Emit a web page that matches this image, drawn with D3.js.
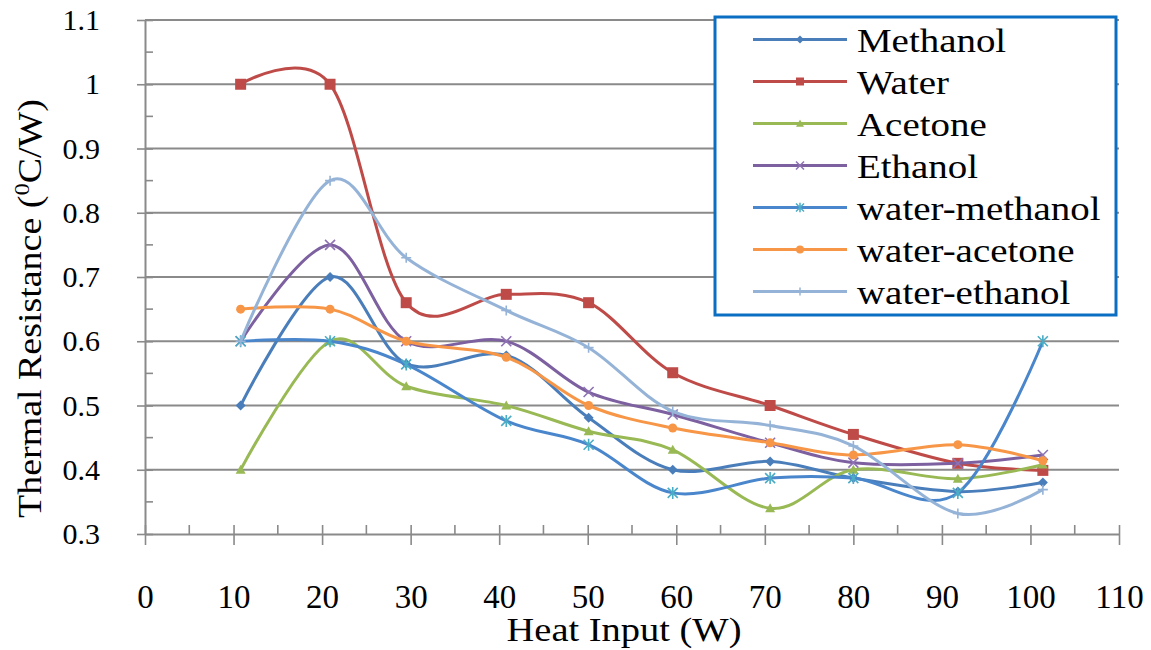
<!DOCTYPE html>
<html>
<head>
<meta charset="utf-8">
<script src="https://cdn.jsdelivr.net/npm/d3@7"></script>
<style>
  body { margin: 0; background: #fff; }
  text { font-family: "Liberation Serif", "Times New Roman", serif; fill: #000; }
</style>
</head>
<body>
<div id="chart"></div>
<script>
// values
var heatInput = [10.8, 20.9, 29.5, 40.8, 50.1, 59.6, 70.6, 80, 91.8, 101.4];
var methanol      = [0.50, 0.70, 0.565, 0.578, 0.481, 0.40, 0.413, 0.387, 0.366, 0.38];
var water         = [1.0, 1.0, 0.66, 0.673, 0.66, 0.551, 0.50, 0.455, 0.41, 0.399];
var acetone       = [0.40, 0.60, 0.53, 0.50, 0.46, 0.431, 0.34, 0.40, 0.386, 0.408];
var ethanol       = [0.60, 0.75, 0.60, 0.60, 0.521, 0.486, 0.442, 0.411, 0.41, 0.423];
var waterMethanol = [0.60, 0.60, 0.564, 0.476, 0.439, 0.364, 0.387, 0.387, 0.364, 0.60];
var waterAcetone  = [0.65, 0.65, 0.60, 0.575, 0.50, 0.465, 0.442, 0.423, 0.439, 0.414];
var waterEthanol  = [0.60, 0.85, 0.73, 0.648, 0.59, 0.491, 0.469, 0.437, 0.332, 0.369];

var seriesNames = ["Methanol", "Water", "Acetone", "Ethanol", "water-methanol", "water-acetone", "water-ethanol"];
var seriesValues = [methanol, water, acetone, ethanol, waterMethanol, waterAcetone, waterEthanol];
var lineColors = ["#4A7EBB", "#BE4B48", "#98B954", "#7D60A0", "#4A86CC", "#F79646", "#95B3D7"];
var markerColors = ["#4A7EBB", "#BE4B48", "#98B954", "#8E72B4", "#4BACC6", "#F79646", "#95B3D7"];
var markerTypes = ["diamond", "square", "triangle", "times", "asterisk", "circle", "plus"];

var xTicks = d3.range(0, 111, 10);
var xMinor = d3.range(5, 110, 10);
var yTicks = [0.3, 0.4, 0.5, 0.6, 0.7, 0.8, 0.9, 1.0, 1.1];
var yMinor = [0.35, 0.45, 0.55, 0.65, 0.75, 0.85, 0.95, 1.05];

var width = 1151, height = 650;

var svg = d3.select("#chart").append("svg")
	.attr("width", width)
	.attr("height", height);

var x = d3.scaleLinear().domain([0, 110]).range([145, 1119]);
var y = d3.scaleLinear().domain([0.3, 1.1]).range([534, 20]);

var gray = "#8a8a8a";

// horizontal grid
svg.append("g").selectAll("line")
	.data(yTicks.slice(1))
	.enter().append("line")
	.attr("x1", x(0)).attr("x2", x(110))
	.attr("y1", function(d){ return y(d); })
	.attr("y2", function(d){ return y(d); })
	.attr("stroke", gray)
	.attr("stroke-width", 1.8);

// x axis
var xAxis = svg.append("g")
	.attr("transform", "translate(0," + y(0.3) + ")")
	.call(d3.axisBottom(x).tickValues(xTicks).tickSizeOuter(0));
xAxis.select(".domain").attr("stroke", gray).attr("stroke-width", 2);
xAxis.selectAll(".tick line").attr("stroke", gray).attr("stroke-width", 1.6).attr("y1", -9).attr("y2", 11);
xAxis.selectAll(".tick text").attr("y", 74).attr("dy", 0).attr("font-size", "33px").attr("fill", "#000");
xAxis.append("g").selectAll("line")
	.data(xMinor)
	.enter().append("line")
	.attr("x1", function(d){ return x(d); }).attr("x2", function(d){ return x(d); })
	.attr("y1", -9).attr("y2", 0)
	.attr("stroke", gray).attr("stroke-width", 1.6);

// y axis
var yAxis = svg.append("g")
	.attr("transform", "translate(" + x(0) + ",0)")
	.call(d3.axisLeft(y).tickValues(yTicks).tickSizeOuter(0)
		.tickFormat(function(d){ return d === 1 ? "1" : d3.format(".1f")(d); }));
yAxis.select(".domain").attr("stroke", gray).attr("stroke-width", 2);
yAxis.selectAll(".tick line").attr("stroke", gray).attr("stroke-width", 1.6).attr("x1", -8).attr("x2", 8);
yAxis.selectAll(".tick text").attr("x", -45).attr("dy", "0.32em").attr("font-size", "30px").attr("fill", "#000");
yAxis.append("g").selectAll("line")
	.data(yMinor)
	.enter().append("line")
	.attr("y1", function(d){ return y(d); }).attr("y2", function(d){ return y(d); })
	.attr("x1", 0).attr("x2", 8)
	.attr("stroke", gray).attr("stroke-width", 1.6);

// marker shapes
function markerPath(type, r){
	var p = d3.path();
	if (type === "diamond"){
		p.moveTo(0, -r); p.lineTo(r, 0); p.lineTo(0, r); p.lineTo(-r, 0); p.closePath();
	} else if (type === "square"){
		p.rect(-r, -r, 2 * r, 2 * r);
	} else if (type === "triangle"){
		p.moveTo(0, -r); p.lineTo(r, r * 0.8); p.lineTo(-r, r * 0.8); p.closePath();
	} else if (type === "circle"){
		p.arc(0, 0, r, 0, 2 * Math.PI);
	} else if (type === "times" || type === "asterisk"){
		p.moveTo(-r, -r); p.lineTo(r, r); p.moveTo(-r, r); p.lineTo(r, -r);
		if (type === "asterisk"){ p.moveTo(0, -r * 1.2); p.lineTo(0, r * 1.2); }
	} else if (type === "plus"){
		p.moveTo(-r, 0); p.lineTo(r, 0); p.moveTo(0, -r); p.lineTo(0, r);
	}
	return p.toString();
}
function isStroked(type){ return type === "times" || type === "asterisk" || type === "plus"; }

var line = d3.line()
	.curve(d3.curveCardinal.tension(0))
	.x(function(d){ return x(d[0]); })
	.y(function(d){ return y(d[1]); });

// series
seriesValues.forEach(function(vals, i){
	var pts = heatInput.map(function(h, j){ return [h, vals[j]]; });
	var g = svg.append("g");
	g.append("path")
		.datum(pts)
		.attr("d", line)
		.attr("fill", "none")
		.attr("stroke", lineColors[i])
		.attr("stroke-width", 3);
	var t = markerTypes[i];
	var r = t === "square" ? 5.5 : (t === "circle" ? 4.5 : 5);
	g.selectAll("path.m")
		.data(pts)
		.enter().append("path")
		.attr("class", "m")
		.attr("transform", function(d){ return "translate(" + x(d[0]) + "," + y(d[1]) + ")"; })
		.attr("d", markerPath(t, r))
		.attr("fill", isStroked(t) ? "none" : markerColors[i])
		.attr("stroke", isStroked(t) ? markerColors[i] : "none")
		.attr("stroke-width", 1.6);
});

// legend
var legend = svg.append("g");
legend.append("rect")
	.attr("x", 715).attr("y", 17)
	.attr("width", 401).attr("height", 298)
	.attr("fill", "#fff")
	.attr("stroke", "#0A6FC2")
	.attr("stroke-width", 3);
seriesNames.forEach(function(name, i){
	var ly = 39.5 + i * 42;
	legend.append("line")
		.attr("x1", 753).attr("x2", 847)
		.attr("y1", ly).attr("y2", ly)
		.attr("stroke", lineColors[i]).attr("stroke-width", 3);
	var t = markerTypes[i];
	legend.append("path")
		.attr("transform", "translate(800," + ly + ")")
		.attr("d", markerPath(t, 4))
		.attr("fill", isStroked(t) ? "none" : markerColors[i])
		.attr("stroke", isStroked(t) ? markerColors[i] : "none")
		.attr("stroke-width", 1.5);
	legend.append("text")
		.attr("transform", "translate(857," + (ly + 12) + ") scale(1.18,1)")
		.attr("font-size", "33px")
		.text(name);
});

// axis titles, stretched to the measured lengths
var xTitle = svg.append("text")
	.attr("text-anchor", "middle")
	.attr("font-size", "33px")
	.text("Heat Input (W)");
var kx = 235 / xTitle.node().getComputedTextLength();
xTitle.attr("transform", "translate(624,641) scale(" + kx + ",1)");

var yTitle = svg.append("text")
	.attr("text-anchor", "middle")
	.attr("font-size", "34px");
yTitle.append("tspan").text("Thermal Resistance (");
yTitle.append("tspan").attr("font-size", "22px").attr("dy", "-12").text("0");
yTitle.append("tspan").attr("dy", "12").text("C/W)");
var ky = 419 / yTitle.node().getComputedTextLength();
yTitle.attr("transform", "translate(41,308.5) rotate(-90) scale(" + ky + ",1)");
</script>
</body>
</html>
